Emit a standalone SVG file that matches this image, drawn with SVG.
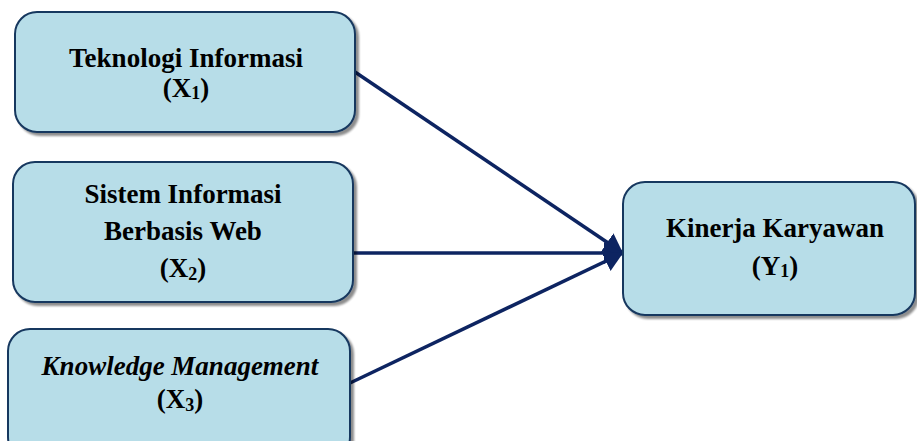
<svg xmlns="http://www.w3.org/2000/svg" width="917" height="441" viewBox="0 0 917 441">
<defs>
<marker id="ah" markerUnits="userSpaceOnUse" markerWidth="20" markerHeight="24" refX="19" refY="12" orient="auto">
<path d="M0,1 L19,12 L0,23 Z" fill="#0d2461"/>
</marker>
<filter id="sh" x="-5%" y="-5%" width="115%" height="120%">
<feGaussianBlur in="SourceAlpha" stdDeviation="1.2"/>
<feOffset dx="2.5" dy="3" result="b"/>
<feComponentTransfer><feFuncA type="linear" slope="0.45"/></feComponentTransfer>
<feMerge><feMergeNode/><feMergeNode in="SourceGraphic"/></feMerge>
</filter>
</defs>
<style>
.box{fill:#b7dde8;stroke:#17375e;stroke-width:2;filter:url(#sh)}
.t{font-family:"Liberation Serif","Times New Roman",serif;font-weight:bold;font-size:27px;fill:#000;text-anchor:middle}
.i{font-style:italic}
.sub{font-size:18px}
.con{stroke:#0d2461;stroke-width:3.5;fill:none;marker-end:url(#ah)}
</style>
<g id="connectors">
<line class="con" x1="355" y1="72" x2="623" y2="253"/>
<line class="con" x1="353" y1="253" x2="623" y2="253"/>
<line class="con" x1="350" y1="383" x2="623" y2="253"/>
</g>
<g id="x1">
<rect class="box" x="15" y="12" width="340" height="120" rx="22"/>
<text class="t" x="186" y="67">Teknologi Informasi</text>
<text class="t" x="186" y="97">(X<tspan class="sub" dy="2">1</tspan><tspan dy="-2">)</tspan></text>
</g>
<g id="x2">
<rect class="box" x="13" y="162" width="340" height="140" rx="22"/>
<text class="t" x="183" y="203">Sistem Informasi</text>
<text class="t" x="183" y="240">Berbasis Web</text>
<text class="t" x="183" y="277">(X<tspan class="sub" dy="3">2</tspan><tspan dy="-3">)</tspan></text>
</g>
<g id="x3">
<rect class="box" x="8" y="329" width="342" height="130" rx="22"/>
<text class="t i" x="180" y="375">Knowledge Management</text>
<text class="t" x="180" y="408">(X<tspan class="sub" dy="3">3</tspan><tspan dy="-3">)</tspan></text>
</g>
<g id="y1">
<rect class="box" x="623" y="182" width="292" height="133" rx="22"/>
<text class="t" x="775" y="237">Kinerja Karyawan</text>
<text class="t" x="775" y="275">(Y<tspan class="sub" dy="2">1</tspan><tspan dy="-2">)</tspan></text>
</g>
</svg>
